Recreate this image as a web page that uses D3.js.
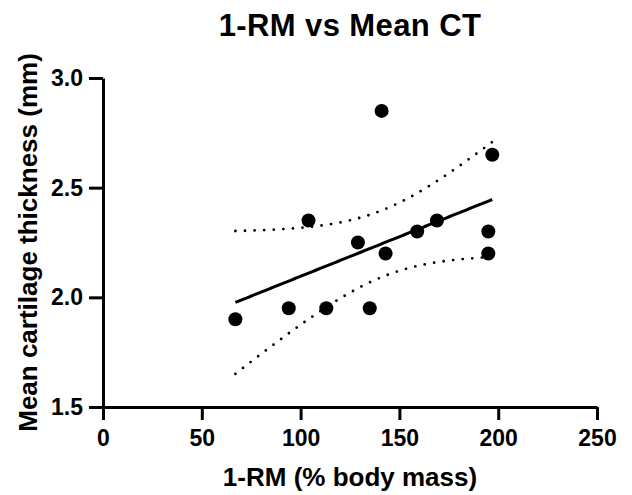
<!DOCTYPE html>
<html>
<head>
<meta charset="utf-8">
<script src="https://cdn.jsdelivr.net/npm/d3@7"></script>
<style>
  body { margin: 0; background: #fff; }
  text { font-family: Arial, "Liberation Sans", sans-serif; font-weight: bold; }
</style>
</head>
<body>
<div id="chart"></div>
<script>
// data
const oneRM = [67, 94, 104, 113, 129, 135, 141, 143, 159, 169, 195, 195, 197];
const meanCT = [1.9, 1.95, 2.35, 1.95, 2.25, 1.95, 2.85, 2.2, 2.3, 2.35, 2.3, 2.2, 2.65];
const xTicks = [0, 50, 100, 150, 200, 250];
const yTicks = [1.5, 2.0, 2.5, 3.0];

const width = 632, height = 495;
const margin = { top: 78, right: 35, bottom: 88, left: 103 };

const svg = d3.select('#chart').append('svg')
  .attr('width', width)
  .attr('height', height);

const x = d3.scaleLinear().domain([0, 250]).range([margin.left, width - margin.right]);
const y = d3.scaleLinear().domain([1.5, 3.0]).range([height - margin.bottom, margin.top]);

// linear regression + 95% CI of the fit
const n = oneRM.length;
const mx = d3.mean(oneRM), my = d3.mean(meanCT);
const sxx = d3.sum(oneRM, v => (v - mx) ** 2);
const sxy = d3.sum(oneRM, (v, i) => (v - mx) * (meanCT[i] - my));
const slope = sxy / sxx;
const icpt = my - slope * mx;
const sse = d3.sum(oneRM, (v, i) => (meanCT[i] - (icpt + slope * v)) ** 2);
const s = Math.sqrt(sse / (n - 2));
const tCrit = 2.201; // t(0.975, df=11)

const [xmin, xmax] = d3.extent(oneRM);
const xs = d3.range(0, 101).map(k => xmin + (xmax - xmin) * k / 100);
const band = xs.map(v => {
  const fit = icpt + slope * v;
  const half = tCrit * s * Math.sqrt(1 / n + (v - mx) ** 2 / sxx);
  return { x: v, fit, lo: fit - half, hi: fit + half };
});

const line = key => d3.line().x(d => x(d.x)).y(d => y(d[key]));

['lo', 'hi'].forEach(k => {
  svg.append('path')
    .datum(band)
    .attr('d', line(k))
    .attr('fill', 'none')
    .attr('stroke', '#000')
    .attr('stroke-width', 2.8)
    .attr('stroke-linecap', 'round')
    .attr('stroke-dasharray', '0 9.6');
});

svg.append('path')
  .datum(band)
  .attr('d', line('fit'))
  .attr('fill', 'none')
  .attr('stroke', '#000')
  .attr('stroke-width', 3);

// points
svg.append('g')
  .selectAll('circle')
  .data(oneRM.map((v, i) => [v, meanCT[i]]))
  .join('circle')
  .attr('cx', d => x(d[0]))
  .attr('cy', d => y(d[1]))
  .attr('r', 7)
  .attr('fill', '#000');

// axes
const xAxis = svg.append('g')
  .attr('transform', `translate(0,${height - margin.bottom})`)
  .call(d3.axisBottom(x).tickValues(xTicks).tickFormat(d3.format('d')).tickSize(13).tickSizeOuter(0).tickPadding(10));

const yAxis = svg.append('g')
  .attr('transform', `translate(${margin.left},0)`)
  .call(d3.axisLeft(y).tickValues(yTicks).tickFormat(d3.format('.1f')).tickSize(14).tickSizeOuter(0).tickPadding(6));

[xAxis, yAxis].forEach(g => {
  g.select('.domain').attr('stroke', '#000').attr('stroke-width', 3);
  g.selectAll('.tick line').attr('stroke', '#000').attr('stroke-width', 3);
  g.selectAll('.tick text')
    .attr('fill', '#000')
    .attr('font-size', 23)
    .attr('font-weight', 'bold')
    .attr('font-family', 'Arial, "Liberation Sans", sans-serif');
});

// titles
svg.append('text')
  .attr('x', (margin.left + width - margin.right) / 2)
  .attr('y', 36)
  .attr('text-anchor', 'middle')
  .attr('font-size', 31)
  .attr('letter-spacing', 0.4)
  .text('1-RM vs Mean CT');

svg.append('text')
  .attr('x', (margin.left + width - margin.right) / 2)
  .attr('y', 486)
  .attr('text-anchor', 'middle')
  .attr('font-size', 26)
  .text('1-RM (% body mass)');

svg.append('text')
  .attr('transform', `translate(37,${(margin.top + height - margin.bottom) / 2}) rotate(-90)`)
  .attr('text-anchor', 'middle')
  .attr('font-size', 26)
  .text('Mean cartilage thickness (mm)');
</script>
</body>
</html>
